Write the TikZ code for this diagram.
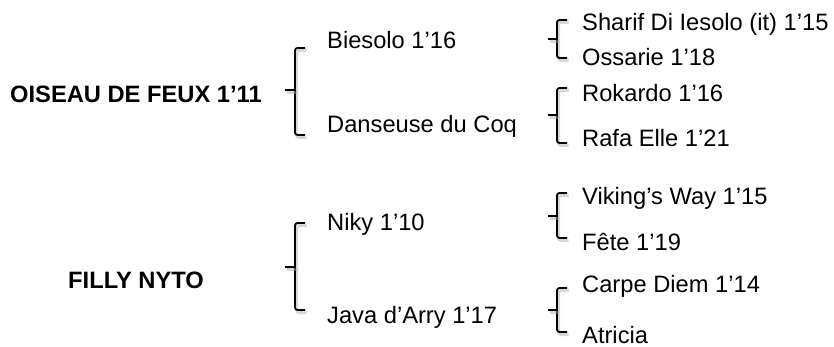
\documentclass[tikz,border=0pt]{standalone}
\usepackage{fontspec}
\setmainfont{Liberation Sans}
\begin{document}
\begin{tikzpicture}[x=1pt,y=-1pt,
  lbl/.style={inner sep=0pt,anchor=base west,font=\fontsize{23.7}{28}\selectfont},
  root/.style={lbl,font=\fontsize{23.7}{28}\selectfont\bfseries},
  br/.style={line width=1.8pt,rounded corners=2.5pt,
    preaction={draw=black!35,opacity=0.45,line width=3pt,transform canvas={shift={(1.5pt,-2.5pt)}}}}]
\useasboundingbox (0,0) rectangle (834,347);
% text nodes
\node[root] (oiseau) at (10,103) {OISEAU DE FEUX 1’11};
\node[lbl] (biesolo) at (327,49) {Biesolo 1’16};
\node[lbl] (danseuse) at (327,133) {Danseuse du Coq};
\node[lbl] (sharif) at (582,31) {Sharif Di Iesolo (it) 1’15};
\node[lbl] (ossarie) at (582,66) {Ossarie 1’18};
\node[lbl] (rokardo) at (582,102) {Rokardo 1’16};
\node[lbl] (rafa) at (582,147) {Rafa Elle 1’21};
\node[root] (filly) at (68,288) {FILLY NYTO};
\node[lbl] (niky) at (327,230) {Niky 1’10};
\node[lbl] (java) at (327,323) {Java d’Arry 1’17};
\node[lbl] (viking) at (582,205) {Viking’s Way 1’15};
\node[lbl] (fete) at (582,250) {Fête 1’19};
\node[lbl] (carpe) at (582,292) {Carpe Diem 1’14};
\node[lbl] (atricia) at (582,343) {Atricia};
% bracket coordinates
\coordinate (b1t) at (295,48); \coordinate (b1b) at (295,135); \coordinate (b1m) at (285,90); \coordinate (b1c) at (295,90);
\coordinate (b2t) at (557,20); \coordinate (b2b) at (557,58); \coordinate (b2m) at (548,39); \coordinate (b2c) at (557,39);
\coordinate (b3t) at (557,88); \coordinate (b3b) at (557,143); \coordinate (b3m) at (548,115); \coordinate (b3c) at (557,115);
\coordinate (b4t) at (295,223); \coordinate (b4b) at (295,310); \coordinate (b4m) at (285,267); \coordinate (b4c) at (295,267);
\coordinate (b5t) at (557,193); \coordinate (b5b) at (557,238); \coordinate (b5m) at (548,216); \coordinate (b5c) at (557,216);
\coordinate (b6t) at (557,288); \coordinate (b6b) at (557,332); \coordinate (b6m) at (548,310); \coordinate (b6c) at (557,310);
\foreach \b in {b1,b2,b3,b4,b5,b6}{
  \draw[br] ([xshift=10pt]\b t) -- (\b t) -- (\b b) -- ([xshift=10pt]\b b);
  \draw[br] (\b m) -- (\b c);
}
\end{tikzpicture}
\end{document}
